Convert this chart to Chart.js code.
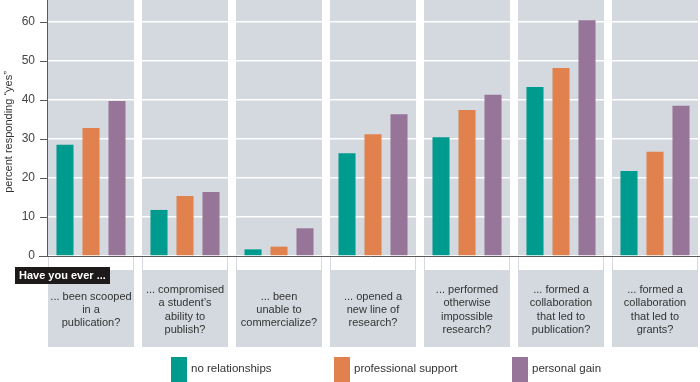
<!DOCTYPE html>
<html><head><meta charset="utf-8">
<script src="https://cdn.jsdelivr.net/npm/chart.js@4.4.1/dist/chart.umd.min.js"></script>
<style>html,body{margin:0;padding:0;overflow:hidden;background:#fff}#wrap{width:700px;height:382px;overflow:hidden;position:relative}canvas{display:block}</style>
</head><body><div id="wrap"><canvas id="c" width="702" height="382"></canvas></div>
<script>
const categories = ['scooped','compromised','commercialize','newline','impossible','collabPub','collabGrants'];
const categoryLabels = [
  ['... been scooped','in a','publication?'],
  ['... compromised','a student\u2019s','ability to','publish?'],
  ['... been','unable to','commercialize?'],
  ['... opened a','new line of','research?'],
  ['... performed','otherwise','impossible','research?'],
  ['... formed a','collaboration','that led to','publication?'],
  ['... formed a','collaboration','that led to','grants?']
];
const seriesNames = ['no relationships','professional support','personal gain'];
const noRelationships = [28.5, 11.8, 1.7, 26.3, 30.4, 43.3, 21.8];
const professionalSupport = [32.8, 15.4, 2.4, 31.2, 37.4, 48.2, 26.7];
const personalGain = [39.7, 16.4, 7.1, 36.3, 41.3, 60.4, 38.5];
const yTicks = [0, 10, 20, 30, 40, 50, 60];
const yTitle = 'percent responding \u201cyes\u201d';
const promptLabel = 'Have you ever ...';

const COLORS = ['#009b8f', '#e1814d', '#977599'];
const PANEL = '#d3d9de';
const AXIS = '#5a5a5a';
const TEXT = '#333333';
const FONT = '"Liberation Sans", Arial, Helvetica, sans-serif';

const decor = {
  id: 'decor',
  beforeDraw(chart) {
    const ctx = chart.ctx, x = chart.scales.x;
    ctx.save();
    ctx.fillStyle = '#ffffff';
    ctx.fillRect(0, 0, chart.width, chart.height);
    categories.forEach((c, i) => {
      const cx = x.getPixelForValue(i);
      const l = Math.round(cx - 43);
      ctx.fillStyle = PANEL;
      ctx.fillRect(l, 0, 86, 347);
      ctx.fillStyle = '#ffffff';
      ctx.fillRect(l + 1, 257, 84, 13);
    });
    ctx.restore();
  },
  afterDraw(chart) {
    const ctx = chart.ctx, x = chart.scales.x, y = chart.scales.y;
    const base = y.getPixelForValue(0);
    ctx.save();
    ctx.strokeStyle = AXIS;
    ctx.lineWidth = 1;
    ctx.beginPath();
    ctx.moveTo(47.5, 0); ctx.lineTo(47.5, base);
    ctx.moveTo(39, base + 0.5); ctx.lineTo(chart.width, base + 0.5);
    yTicks.forEach(v => {
      const py = Math.round(y.getPixelForValue(v)) + 0.5;
      ctx.moveTo(40, py); ctx.lineTo(47, py);
    });
    ctx.stroke();
    ctx.fillStyle = '#444';
    ctx.font = '12px ' + FONT;
    ctx.textAlign = 'right';
    ctx.textBaseline = 'middle';
    yTicks.forEach(v => ctx.fillText(String(v), 35, y.getPixelForValue(v)));
    ctx.fillStyle = TEXT;
    ctx.font = '11px ' + FONT;
    ctx.textAlign = 'center';
    const lh = 13.3;
    categoryLabels.forEach((lines, i) => {
      const cx = x.getPixelForValue(i);
      const top = 310 - (lines.length - 1) * lh / 2;
      lines.forEach((t, k) => ctx.fillText(t, cx, top + k * lh));
    });
    ctx.fillStyle = '#1f1a1a';
    ctx.fillRect(15, 267, 95, 17);
    ctx.fillStyle = '#ffffff';
    ctx.font = 'bold 11px ' + FONT;
    ctx.textAlign = 'left';
    ctx.fillText(promptLabel, 19, 276);
    ctx.save();
    ctx.translate(9, 132);
    ctx.rotate(-Math.PI / 2);
    ctx.fillStyle = TEXT;
    ctx.font = '11px ' + FONT;
    ctx.textAlign = 'center';
    ctx.fillText(yTitle, 0, 0);
    ctx.restore();
    const lx = [171, 334, 512];
    ctx.font = '11.5px ' + FONT;
    ctx.textAlign = 'left';
    seriesNames.forEach((n, i) => {
      ctx.fillStyle = COLORS[i];
      ctx.fillRect(lx[i], 357, 16, 26);
      ctx.fillStyle = TEXT;
      ctx.fillText(n, lx[i] + 20, 369);
    });
    ctx.restore();
  }
};

new Chart(document.getElementById('c'), {
  type: 'bar',
  data: {
    labels: categories,
    datasets: [
      { label: seriesNames[0], data: noRelationships, backgroundColor: COLORS[0] },
      { label: seriesNames[1], data: professionalSupport, backgroundColor: COLORS[1] },
      { label: seriesNames[2], data: personalGain, backgroundColor: COLORS[2] }
    ]
  },
  options: {
    responsive: false,
    animation: false,
    layout: { padding: 0 },
    datasets: { bar: { categoryPercentage: 0.83, barPercentage: 0.655 } },
    plugins: { legend: { display: false }, tooltip: { enabled: false } },
    scales: {
      x: {
        grid: { display: false },
        border: { display: false },
        ticks: { display: false },
        afterFit(s) { s.height = 126; }
      },
      y: {
        min: 0, max: 65.6,
        afterBuildTicks(s) { s.ticks = yTicks.map(v => ({ value: v })); },
        afterFit(s) { s.width = 44; },
        border: { display: false },
        grid: { color: '#ffffff', lineWidth: 1.5, drawTicks: false },
        ticks: { display: false }
      }
    }
  },
  plugins: [decor]
});
</script></body></html>
